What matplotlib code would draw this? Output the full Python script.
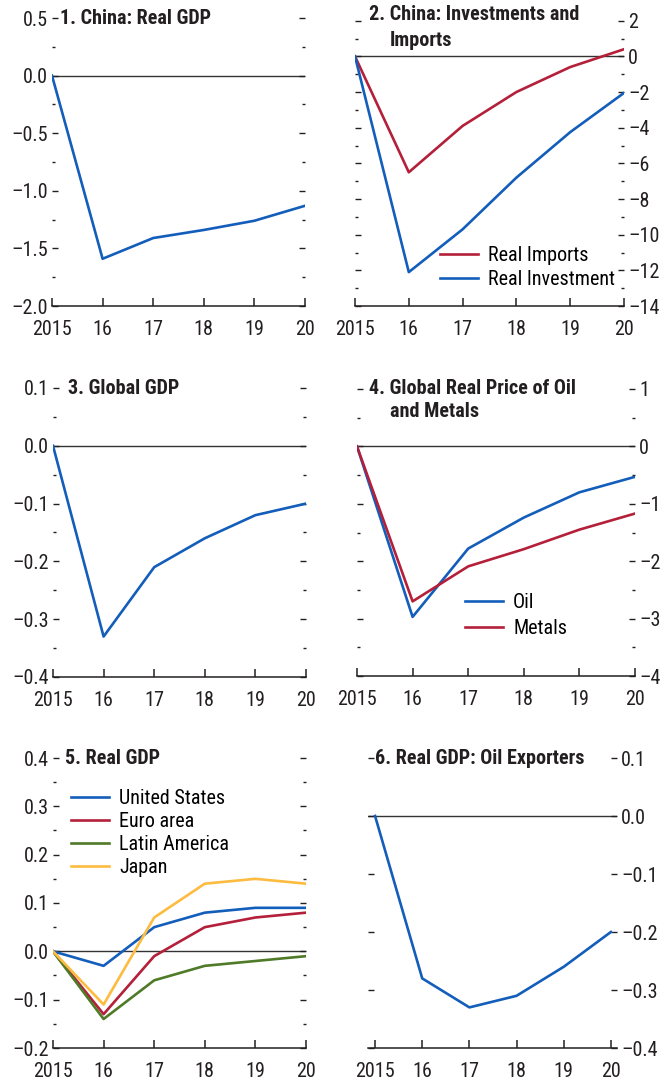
import matplotlib

matplotlib.use("Agg")
import matplotlib.pyplot as plt
from matplotlib.ticker import FuncFormatter, MultipleLocator, NullLocator

plt.rcParams["font.family"] = ["Roboto Condensed", "DejaVu Sans"]
plt.rcParams["font.stretch"] = "condensed"

years = [2015, 2016, 2017, 2018, 2019, 2020]
year_labels = ["2015", "16", "17", "18", "19", "20"]

china_gdp = [0.0, -1.59, -1.41, -1.34, -1.26, -1.13]
china_imports = [0.0, -6.5, -3.9, -2.0, -0.6, 0.4]
china_investment = [0.0, -12.1, -9.7, -6.8, -4.25, -2.05]
global_gdp = [0.0, -0.33, -0.21, -0.16, -0.12, -0.10]
oil_price = [0.0, -2.97, -1.78, -1.24, -0.80, -0.53]
metals_price = [0.0, -2.70, -2.09, -1.79, -1.45, -1.17]
gdp_us = [0.0, -0.03, 0.05, 0.08, 0.09, 0.09]
gdp_euro = [0.0, -0.13, -0.01, 0.05, 0.07, 0.08]
gdp_latam = [0.0, -0.14, -0.06, -0.03, -0.02, -0.01]
gdp_japan = [0.0, -0.11, 0.07, 0.14, 0.15, 0.14]
gdp_oil_exporters = [0.0, -0.28, -0.33, -0.31, -0.26, -0.20]

BLUE = "#135dbb"
RED = "#b41f3a"
GREEN = "#4f7a28"
YELLOW = "#fdbb40"
TEXT = "#231f20"
LW = 1.9
FS = 14.5

W, H = 664, 1086


def rect(x0, x1, ytop, ybot):
    return [x0 / W, 1 - ybot / H, (x1 - x0) / W, (ybot - ytop) / H]


def dash_fmt(decimals):
    def f(v, pos):
        s = f"{v:.{decimals}f}"
        if s.startswith("-"):
            s = "\u2013" + s[1:]
        if s in ("\u20130", "\u20130.0"):
            s = s[1:]
        return s
    return FuncFormatter(f)


def style_axis(ax, ylim, major, minor, decimals, side, xlim=(2015, 2020)):
    ax.set_xlim(*xlim)
    ax.set_ylim(*ylim)
    for s in ("top", "left", "right"):
        ax.spines[s].set_visible(False)
    ax.spines["bottom"].set_color(TEXT)
    ax.spines["bottom"].set_linewidth(1.1)
    ax.axhline(0, color="#333333", lw=1.0, zorder=1)
    ax.set_xticks(years)
    ax.set_xticklabels(year_labels)
    ax.tick_params(axis="x", direction="in", length=6, width=1.1, color=TEXT,
                   labelsize=FS, labelcolor=TEXT, pad=10)
    ax.yaxis.set_major_locator(MultipleLocator(major))
    if minor:
        ax.yaxis.set_minor_locator(MultipleLocator(minor))
    else:
        ax.yaxis.set_minor_locator(NullLocator())
    ax.yaxis.set_major_formatter(dash_fmt(decimals))
    ax.tick_params(axis="y", which="both", direction="in", left=True, right=True,
                   color=TEXT, labelsize=FS, labelcolor=TEXT, pad=3,
                   labelleft=(side == "left"), labelright=(side == "right"))
    ax.tick_params(axis="y", which="major", length=4.5, width=1.0)
    ax.tick_params(axis="y", which="minor", length=2, width=1.0)
    ax.set_facecolor("none")


def title(ax, x, y, txt):
    ax.text(x, y, txt, transform=ax.transAxes, fontsize=FS, fontweight="bold",
            color=TEXT, ha="left", va="center")


def legend(ax, x, y, spacing):
    ax.legend(loc="upper left", bbox_to_anchor=(x, y), frameon=False, fontsize=FS,
              borderpad=0, borderaxespad=0, handlelength=1.9, handletextpad=0.5,
              labelspacing=spacing)


fig = plt.figure(figsize=(W / 100, H / 100), dpi=100)

# 1. China: Real GDP
ax1 = fig.add_axes(rect(52, 305, 18, 306))
ax1.plot(years, china_gdp, color=BLUE, lw=LW)
style_axis(ax1, (-2.0, 0.5), 0.5, 0.25, 1, "left")
title(ax1, 0.032, 1.0, "1. China: Real GDP")

# 2. China: Investments and Imports
ax2 = fig.add_axes(rect(355, 624, 20.7, 306))
ax2.plot(years, china_imports, color=RED, lw=LW, label="Real Imports")
ax2.plot(years, china_investment, color=BLUE, lw=LW, label="Real Investment")
style_axis(ax2, (-14, 2), 2, 1, 0, "right")
title(ax2, 0.052, 1.02, "2. China: Investments and")
title(ax2, 0.13, 0.932, "Imports")
legend(ax2, 0.316, 0.21, 0.25)

# 3. Global GDP
ax3 = fig.add_axes(rect(53, 306, 388, 677))
ax3.plot(years, global_gdp, color=BLUE, lw=LW)
style_axis(ax3, (-0.4, 0.1), 0.1, 0.05, 1, "left")
title(ax3, 0.059, 1.0, "3. Global GDP")

# 4. Global Real Price of Oil and Metals
ax4 = fig.add_axes(rect(357, 635, 389, 676))
ax4.plot(years, oil_price, color=BLUE, lw=LW, label="Oil")
ax4.plot(years, metals_price, color=RED, lw=LW, label="Metals")
style_axis(ax4, (-4, 1), 1, 0.5, 0, "right")
title(ax4, 0.043, 1.0, "4. Global Real Price of Oil")
title(ax4, 0.118, 0.923, "and Metals")
legend(ax4, 0.388, 0.29, 0.35)

# 5. Real GDP
ax5 = fig.add_axes(rect(53, 306, 758, 1048))
ax5.plot(years, gdp_us, color=BLUE, lw=LW, label="United States")
ax5.plot(years, gdp_euro, color=RED, lw=LW, label="Euro area")
ax5.plot(years, gdp_latam, color=GREEN, lw=LW, label="Latin America")
ax5.plot(years, gdp_japan, color=YELLOW, lw=LW, label="Japan")
style_axis(ax5, (-0.2, 0.4), 0.1, 0.05, 1, "left")
title(ax5, 0.047, 1.0, "5. Real GDP")
legend(ax5, 0.071, 0.893, 0.2)

# 6. Real GDP: Oil Exporters
ax6 = fig.add_axes(rect(368, 617, 758, 1048))
ax6.plot(years, gdp_oil_exporters, color=BLUE, lw=LW)
style_axis(ax6, (-0.4, 0.1), 0.1, None, 1, "right", xlim=(2014.85, 2020.13))
title(ax6, 0.028, 1.0, "6. Real GDP: Oil Exporters")

fig.savefig("out.png", dpi=100)
